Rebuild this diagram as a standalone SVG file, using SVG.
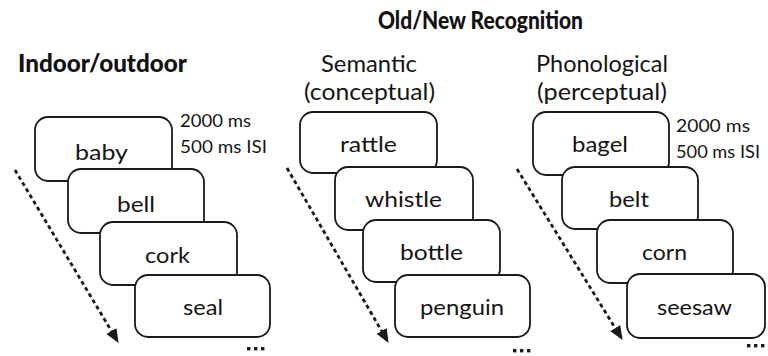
<svg xmlns="http://www.w3.org/2000/svg" width="768" height="356" viewBox="0 0 768 356">
  <style>
    .card { fill: #ffffff; stroke: #1a1a1a; stroke-width: 1.8; }
    .word { font-family: Lato, "Open Sans", "Liberation Sans", sans-serif; font-size: 22px; fill: #151515; }
    .timing { font-family: Lato, "Open Sans", "Liberation Sans", sans-serif; font-size: 17px; fill: #151515; }
    .head { font-family: Lato, "Open Sans", "Liberation Sans", sans-serif; font-size: 24px; fill: #151515; }
    .title { font-family: Lato, "Open Sans", "Liberation Sans", sans-serif; font-size: 24px; font-weight: 900; fill: #111111; }
    .flow { fill: none; stroke: #1a1a1a; stroke-width: 2.8; stroke-dasharray: 4 3.2; }
    .dots { fill: #1a1a1a; }
  </style>
  <defs>
    <marker id="arrowhead" markerUnits="userSpaceOnUse" markerWidth="14" markerHeight="14" viewBox="0 0 12 12" refX="11" refY="6" orient="auto">
      <path d="M0,1 L12,6 L0,11 Z" fill="#1a1a1a"/>
    </marker>
  </defs>

  <rect width="768" height="356" fill="#ffffff"/>

  <!-- headings -->
  <g id="heading-indoor">
    <text class="title" x="18" y="72" textLength="169" lengthAdjust="spacingAndGlyphs">Indoor/outdoor</text>
  </g>
  <g id="heading-recognition">
    <text class="title" x="378" y="29" textLength="205" lengthAdjust="spacingAndGlyphs">Old/New Recognition</text>
  </g>
  <g id="heading-semantic">
    <text class="head" x="321" y="72" textLength="96" lengthAdjust="spacingAndGlyphs">Semantic</text>
    <text class="head" x="304" y="100" textLength="131" lengthAdjust="spacingAndGlyphs">(conceptual)</text>
  </g>
  <g id="heading-phonological">
    <text class="head" x="536" y="72" textLength="132" lengthAdjust="spacingAndGlyphs">Phonological</text>
    <text class="head" x="537" y="100" textLength="130" lengthAdjust="spacingAndGlyphs">(perceptual)</text>
  </g>

  <!-- timing notes -->
  <g id="timing-left">
    <text class="timing" x="180" y="127" textLength="71" lengthAdjust="spacingAndGlyphs">2000 ms</text>
    <text class="timing" x="180" y="153" textLength="87" lengthAdjust="spacingAndGlyphs">500 ms ISI</text>
  </g>
  <g id="timing-right">
    <text class="timing" x="676" y="132" textLength="74" lengthAdjust="spacingAndGlyphs">2000 ms</text>
    <text class="timing" x="676" y="158" textLength="84" lengthAdjust="spacingAndGlyphs">500 ms ISI</text>
  </g>

  <!-- connectors: time flow arrows -->
  <g id="connectors">
    <line class="flow" x1="15" y1="170" x2="118" y2="342" marker-end="url(#arrowhead)"/>
    <line class="flow" x1="287" y1="168" x2="388" y2="342" marker-end="url(#arrowhead)"/>
    <line class="flow" x1="517" y1="169" x2="622" y2="339" marker-end="url(#arrowhead)"/>
  </g>

  <!-- indoor/outdoor sequence -->
  <g id="card-baby">
    <rect class="card" x="35" y="117" width="137" height="64" rx="13"/>
    <text class="word" x="75" y="160" textLength="53" lengthAdjust="spacingAndGlyphs">baby</text>
  </g>
  <g id="card-bell">
    <rect class="card" x="68" y="169" width="136" height="64" rx="13"/>
    <text class="word" x="117" y="212" textLength="38" lengthAdjust="spacingAndGlyphs">bell</text>
  </g>
  <g id="card-cork">
    <rect class="card" x="100" y="222" width="137" height="63" rx="13"/>
    <text class="word" x="145" y="263" textLength="45" lengthAdjust="spacingAndGlyphs">cork</text>
  </g>
  <g id="card-seal">
    <rect class="card" x="135" y="275" width="135" height="62" rx="13"/>
    <text class="word" x="183" y="315" textLength="40" lengthAdjust="spacingAndGlyphs">seal</text>
  </g>
  <g id="more-left">
    <rect class="dots" x="247" y="347" width="3.4" height="3.4"/>
    <rect class="dots" x="254" y="347" width="3.4" height="3.4"/>
    <rect class="dots" x="261" y="347" width="3.4" height="3.4"/>
  </g>

  <!-- semantic sequence -->
  <g id="card-rattle">
    <rect class="card" x="300" y="112" width="137" height="61" rx="13"/>
    <text class="word" x="340" y="152" textLength="57" lengthAdjust="spacingAndGlyphs">rattle</text>
  </g>
  <g id="card-whistle">
    <rect class="card" x="335" y="167" width="138" height="63" rx="13"/>
    <text class="word" x="365" y="207" textLength="77" lengthAdjust="spacingAndGlyphs">whistle</text>
  </g>
  <g id="card-bottle">
    <rect class="card" x="363" y="220" width="137" height="62" rx="13"/>
    <text class="word" x="400" y="260" textLength="63" lengthAdjust="spacingAndGlyphs">bottle</text>
  </g>
  <g id="card-penguin">
    <rect class="card" x="395" y="275" width="135" height="62" rx="13"/>
    <text class="word" x="420" y="315" textLength="84" lengthAdjust="spacingAndGlyphs">penguin</text>
  </g>
  <g id="more-middle">
    <rect class="dots" x="513" y="349" width="3.4" height="3.4"/>
    <rect class="dots" x="520" y="349" width="3.4" height="3.4"/>
    <rect class="dots" x="527" y="349" width="3.4" height="3.4"/>
  </g>

  <!-- phonological sequence -->
  <g id="card-bagel">
    <rect class="card" x="533" y="112" width="136" height="63" rx="13"/>
    <text class="word" x="572" y="152" textLength="56" lengthAdjust="spacingAndGlyphs">bagel</text>
  </g>
  <g id="card-belt">
    <rect class="card" x="562" y="167" width="136" height="62" rx="13"/>
    <text class="word" x="609" y="207" textLength="40" lengthAdjust="spacingAndGlyphs">belt</text>
  </g>
  <g id="card-corn">
    <rect class="card" x="597" y="220" width="136" height="63" rx="13"/>
    <text class="word" x="642" y="260" textLength="45" lengthAdjust="spacingAndGlyphs">corn</text>
  </g>
  <g id="card-seesaw">
    <rect class="card" x="627" y="274" width="138" height="64" rx="13"/>
    <text class="word" x="657" y="315" textLength="75" lengthAdjust="spacingAndGlyphs">seesaw</text>
  </g>
  <g id="more-right">
    <rect class="dots" x="747" y="344" width="3.4" height="3.4"/>
    <rect class="dots" x="754" y="344" width="3.4" height="3.4"/>
    <rect class="dots" x="761" y="344" width="3.4" height="3.4"/>
  </g>
</svg>
